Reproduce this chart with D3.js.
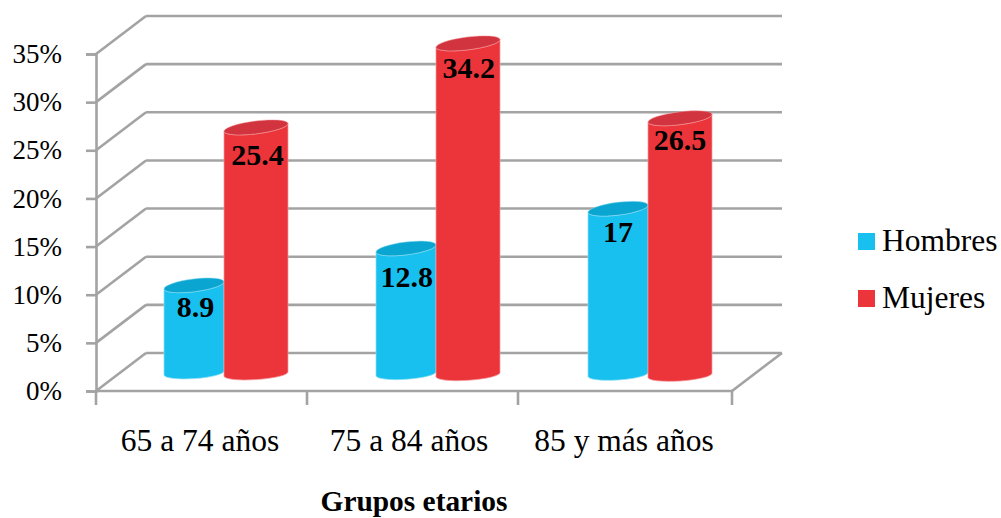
<!DOCTYPE html>
<html>
<head>
<meta charset="utf-8">
<script src="https://cdn.jsdelivr.net/npm/d3@7"></script>
<style>
  html, body { margin: 0; padding: 0; background: #fff; }
  svg { display: block; }
  text { font-family: "Liberation Serif", serif; fill: #000; }
</style>
</head>
<body>
<svg id="chart" width="1001" height="518"></svg>
<script>
// Population share by age group and sex
const categories = ["65 a 74 años", "75 a 84 años", "85 y más años"];
const hombres = [8.9, 12.8, 17];
const mujeres = [25.4, 34.2, 26.5];
const yTicks = [0, 5, 10, 15, 20, 25, 30, 35];
// Distance of each value label below the top of its cylinder
const hombresLabelDrop = [30, 36.6, 31.3];
const mujeresLabelDrop = [35.6, 32.3, 30];

const seriesStyles = [
  { name: "Hombres", values: hombres, drop: hombresLabelDrop, body: "#17c0ee", top: "#0aa5d0", edge: "#8fdff5",
    shift: -30, half: 30, base: 373, legendY: 241.5 },
  { name: "Mujeres", values: mujeres, drop: mujeresLabelDrop, body: "#ec353a", top: "#d2343f", edge: "#f49a9c",
    shift: 32, half: 32, base: 374, legendY: 298.5 }
];

// Oblique projection of the box: back wall sits up and to the right of the front plane
const depth = { x: 50, y: -38 };
const front = { left: 96, right: 732 };

const svg = d3.select("#chart");
const y = d3.scaleLinear().domain([0, 35]).range([391, 54]);
const x = d3.scaleBand().domain(categories).range([front.left, front.right]);

const gridColor = "#a3a3a3";
const grid = svg.append("g")
  .attr("fill", "none").attr("stroke", gridColor).attr("stroke-width", 2.6);

// Back wall lines and their diagonals along the side wall
yTicks.forEach(t => {
  grid.append("line")
    .attr("x1", front.left + depth.x).attr("x2", front.right + depth.x)
    .attr("y1", y(t) + depth.y).attr("y2", y(t) + depth.y);
  grid.append("line")
    .attr("x1", front.left).attr("x2", front.left + depth.x)
    .attr("y1", y(t)).attr("y2", y(t) + depth.y);
});

// Floor: right-hand diagonal
grid.append("line")
  .attr("x1", front.right).attr("x2", front.right + depth.x)
  .attr("y1", y(0)).attr("y2", y(0) + depth.y);

// Value axis
const yAxis = d3.axisLeft(y).tickValues(yTicks).tickSize(10).tickPadding(24)
  .tickFormat(d => d + "%");
const yG = svg.append("g").attr("transform", `translate(${front.left},0)`).call(yAxis);
yG.selectAll("path, line").attr("stroke", gridColor).attr("stroke-width", 2.6);
yG.selectAll("text").attr("font-size", 27).attr("font-family", "Liberation Serif").attr("fill", "#000");

// Category axis: ticks at band edges, labels centred on each band
const xG = svg.append("g");
xG.append("line")
  .attr("x1", front.left).attr("x2", front.right)
  .attr("y1", y(0)).attr("y2", y(0))
  .attr("stroke", gridColor).attr("stroke-width", 2.6);
const edges = categories.map((c, i) => x(c) - i).concat(front.right);
xG.selectAll("line.edge").data(edges).join("line").attr("class", "edge")
  .attr("x1", d => d).attr("x2", d => d)
  .attr("y1", y(0)).attr("y2", y(0) + 14)
  .attr("stroke", gridColor).attr("stroke-width", 2.6);
xG.selectAll("text").data(categories).join("text")
  .attr("x", (d, i) => x(d) + x.bandwidth() / 2 - 2 - (i === 1 ? 3 : 0))
  .attr("y", 451)
  .attr("text-anchor", "middle")
  .attr("font-size", 31.5)
  .text(d => d);

// Cylinder outline from two tilted ellipses
const tilt = { top: 7.5 / 60, base: 4 / 60 };
const capRy = 6.4;
const capLift = 2;
function ends(cx, cy, hw, slope) {
  return { lx: cx - hw, ly: cy + hw * slope, rx: cx + hw, ry: cy - hw * slope,
           r: Math.hypot(hw, hw * slope), deg: -Math.atan(slope) * 180 / Math.PI };
}
function bodyPath(cx, topY, baseY, hw) {
  const t = ends(cx, topY, hw, tilt.top), b = ends(cx, baseY, hw, tilt.base);
  return `M${t.lx},${t.ly} A${t.r},${capRy} ${t.deg} 0 0 ${t.rx},${t.ry}` +
         ` L${b.rx},${b.ry} A${b.r},5.6 ${b.deg} 0 1 ${b.lx},${b.ly} Z`;
}
function topPath(cx, topY, hw) {
  const t = ends(cx, topY, hw, tilt.top);
  return `M${t.lx},${t.ly} A${t.r},${capRy} ${t.deg} 1 1 ${t.rx},${t.ry}` +
         ` A${t.r},${capRy} ${t.deg} 1 1 ${t.lx},${t.ly} Z`;
}

const barAnchor = c => x(c) + x.bandwidth() / 2 + 22;

seriesStyles.forEach(s => {
  const g = svg.append("g");
  categories.forEach((c, i) => {
    const cx = barAnchor(c) + s.shift;
    const baseY = s.base + i * 0.7;
    const topY = baseY - (y(0) - y(s.values[i])) - capLift;
    g.append("path").attr("d", bodyPath(cx, topY, baseY, s.half))
      .attr("fill", s.body).attr("stroke", s.edge).attr("stroke-width", 0.7);
    g.append("path").attr("d", topPath(cx, topY, s.half))
      .attr("fill", s.top).attr("stroke", s.edge).attr("stroke-width", 0.5);
  });
});

// Value labels go on top so a neighbouring bar never hides them
seriesStyles.forEach(s => {
  categories.forEach((c, i) => {
    const cx = barAnchor(c) + s.shift;
    const topY = s.base + i * 0.7 - (y(0) - y(s.values[i]));
    svg.append("text")
      .attr("x", cx + 1.5 - i * 0.8)
      .attr("y", topY + s.drop[i])
      .attr("text-anchor", "middle")
      .attr("font-size", 30)
      .attr("font-weight", "bold")
      .text(s.values[i]);
  });
});

// Legend
seriesStyles.forEach(s => {
  svg.append("rect").attr("x", 858).attr("y", s.legendY - 8.5)
    .attr("width", 17).attr("height", 17).attr("fill", s.body);
  svg.append("text").attr("x", 882).attr("y", s.legendY + 9.5)
    .attr("font-size", 31.5).text(s.name);
});

// Axis title
svg.append("text").attr("x", 414).attr("y", 511)
  .attr("text-anchor", "middle").attr("font-size", 29.4).attr("font-weight", "bold")
  .text("Grupos etarios");
</script>
</body>
</html>
